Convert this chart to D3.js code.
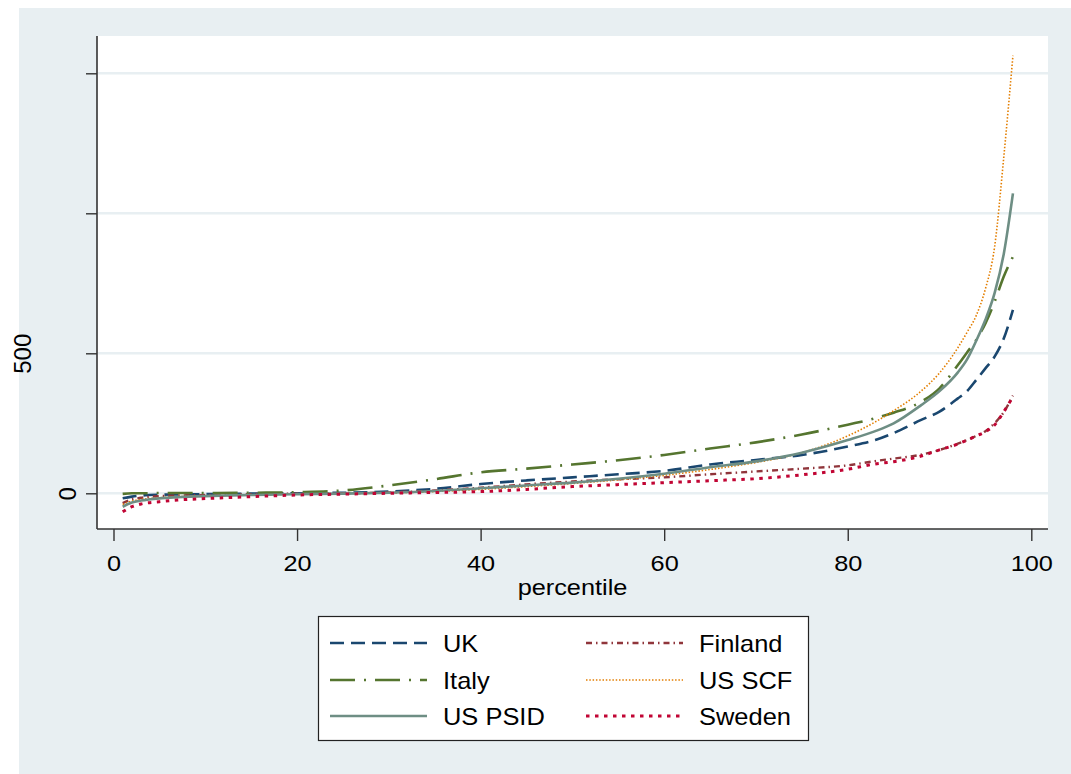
<!DOCTYPE html>
<html>
<head>
<meta charset="utf-8">
<script src="https://cdn.jsdelivr.net/npm/d3@7"></script>
<style>
  body { margin: 0; background: #fff; }
  text { font-family: "Liberation Sans", Arial, sans-serif; fill: #000; }
</style>
</head>
<body>
<div id="chart"></div>
<script>
var pcts = [1, 2, 3, 5, 7, 10, 15, 20, 25, 30, 35, 40, 45, 50, 55, 60, 65, 70, 75, 80, 83, 85, 88, 90, 92, 93, 94, 95, 96, 97, 98];

var uk      = [-18, -12, -8, -5, -4, -3, -1, 0, 2, 6, 16, 33, 46, 57, 68, 80, 103, 119, 137, 167, 190, 215, 262, 292, 339, 365, 405, 446, 488, 553, 655];
var finland = [-35, -22, -16, -10, -8, -6, -3, -1, 0, 3, 10, 20, 32, 42, 50, 57, 68, 78, 88, 100, 115, 124, 138, 155, 177, 190, 205, 222, 250, 290, 349];
var italy   = [-2, 0, 0, 1, 1, 1, 2, 4, 10, 28, 50, 75, 88, 103, 118, 137, 160, 182, 210, 245, 268, 288, 327, 375, 458, 503, 548, 607, 684, 774, 845];
var usScf   = [-40, -28, -22, -16, -12, -9, -6, -3, -1, 1, 6, 14, 24, 35, 48, 64, 85, 110, 145, 205, 255, 295, 365, 430, 520, 575, 635, 730, 880, 1200, 1563];
var usPsid  = [-48, -33, -26, -18, -14, -10, -6, -3, -1, 2, 8, 18, 28, 38, 52, 70, 93, 114, 145, 190, 222, 250, 315, 365, 432, 478, 545, 620, 715, 855, 1071];
var sweden  = [-66, -48, -38, -30, -24, -19, -12, -6, -3, 0, 3, 6, 14, 24, 31, 38, 45, 52, 66, 86, 105, 113, 133, 155, 176, 190, 205, 220, 244, 291, 345];

var xTicks = [0, 20, 40, 60, 80, 100];
var yTicks = [0, 500, 1000, 1500];
var yLabels = { 0: "0", 500: "500" };

// draw order = stata legend order (row-wise, 2 cols)
var series = [
  { name: "UK",      values: uk,      color: "#1a476f", width: 2.6, dash: "14,7" },
  { name: "Finland", values: finland, color: "#90353b", width: 2.4, dash: "6,4,1.5,4" },
  { name: "Italy",   values: italy,   color: "#55752f", width: 2.6, dash: "25,9,2,9" },
  { name: "US SCF",  values: usScf,   color: "#e37e00", width: 1.6, dash: "1.5,1.8" },
  { name: "US PSID", values: usPsid,  color: "#6e8e84", width: 2.6, dash: null },
  { name: "Sweden",  values: sweden,  color: "#c10534", width: 3,   dash: "3.5,5.5" }
];

var W = 1071, H = 774;
var plot = { left: 97, right: 1048, top: 36, bottom: 529 };

var svg = d3.select("#chart").append("svg")
  .attr("width", W)
  .attr("height", H);

// outer grey region
svg.append("rect")
  .attr("x", 19).attr("y", 8)
  .attr("width", W - 19).attr("height", H - 8)
  .attr("fill", "#e8eff2");

svg.append("rect")
  .attr("x", plot.left).attr("y", plot.top)
  .attr("width", plot.right - plot.left).attr("height", plot.bottom - plot.top)
  .attr("fill", "#fff");

var x = d3.scaleLinear().domain([0, 100]).range([113.5, 1031.3]);
var y = d3.scaleLinear().domain([0, 1500]).range([493.3, 73.3]);

function stretch(sel, k) {
  sel.each(function() {
    var w = this.getComputedTextLength();
    d3.select(this).attr("textLength", w * k).attr("lengthAdjust", "spacingAndGlyphs");
  });
}

// gridlines
svg.append("g").selectAll("line")
  .data(yTicks)
  .enter().append("line")
    .attr("x1", plot.left + 1).attr("x2", plot.right)
    .attr("y1", function(d) { return y(d); })
    .attr("y2", function(d) { return y(d); })
    .attr("stroke", "#e8eff2")
    .attr("stroke-width", 2.5);

// lines
var line = d3.line()
  .x(function(d) { return x(d[0]); })
  .y(function(d) { return y(d[1]); })
  .curve(d3.curveMonotoneX);

svg.append("g").selectAll("path")
  .data(series)
  .enter().append("path")
    .attr("d", function(s) { return line(pcts.map(function(p, i) { return [p, s.values[i]]; })); })
    .attr("fill", "none")
    .attr("stroke", function(s) { return s.color; })
    .attr("stroke-width", function(s) { return s.width; })
    .attr("stroke-dasharray", function(s) { return s.dash; })
    .attr("stroke-linejoin", "round");

// axes
var xAxis = svg.append("g")
  .attr("transform", "translate(0," + plot.bottom + ")")
  .call(d3.axisBottom(x).tickValues(xTicks).tickSize(12).tickSizeOuter(0).tickPadding(14));
xAxis.select(".domain").remove();
xAxis.selectAll(".tick line").attr("stroke", "#333").attr("stroke-width", 1.4);
xAxis.selectAll(".tick text").attr("font-size", "22px").attr("fill", "#000").call(stretch, 1.15);

var yAxis = svg.append("g")
  .attr("transform", "translate(" + plot.left + ",0)")
  .call(d3.axisLeft(y).tickValues(yTicks).tickSize(11).tickSizeOuter(0)
    .tickFormat(function(d) { return yLabels[d] || ""; }));
yAxis.select(".domain").remove();
yAxis.selectAll(".tick line").attr("stroke", "#333").attr("stroke-width", 1.4);
yAxis.selectAll(".tick text")
  .attr("font-size", "24px")
  .attr("fill", "#000")
  .attr("x", null).attr("dy", null)
  .attr("text-anchor", "middle")
  .attr("transform", function(d) { return "translate(" + (d === 500 ? -66 : -21) + ",0) rotate(-90)"; });

// axis frame lines
svg.append("line")
  .attr("x1", plot.left).attr("x2", plot.left)
  .attr("y1", plot.top).attr("y2", plot.bottom)
  .attr("stroke", "#333").attr("stroke-width", 1.6);
svg.append("line")
  .attr("x1", plot.left).attr("x2", plot.right)
  .attr("y1", plot.bottom).attr("y2", plot.bottom)
  .attr("stroke", "#333").attr("stroke-width", 1.6);

svg.append("text")
  .attr("x", (plot.left + plot.right) / 2)
  .attr("y", 595)
  .attr("text-anchor", "middle")
  .attr("font-size", "22px")
  .text("percentile")
  .call(stretch, 1.15);

// legend
var legend = svg.append("g");
legend.append("rect")
  .attr("x", 318.5).attr("y", 616.5)
  .attr("width", 490).attr("height", 124)
  .attr("fill", "#fff")
  .attr("stroke", "#222")
  .attr("stroke-width", 1.2);

var legendOrder = ["UK", "Italy", "US PSID", "Finland", "US SCF", "Sweden"];
var rowY = [643, 680, 716];
var colX = [330, 586];

var items = legend.selectAll(".item")
  .data(legendOrder.map(function(n, i) {
    return { s: series.find(function(s) { return s.name === n; }), col: Math.floor(i / 3), row: i % 3 };
  }))
  .enter().append("g")
    .attr("class", "item")
    .attr("transform", function(d) { return "translate(" + colX[d.col] + "," + rowY[d.row] + ")"; });

items.append("line")
  .attr("x1", 0).attr("x2", 97)
  .attr("y1", 0).attr("y2", 0)
  .attr("stroke", function(d) { return d.s.color; })
  .attr("stroke-width", function(d) { return d.s.width; })
  .attr("stroke-dasharray", function(d) { return d.s.dash; });

items.append("text")
  .attr("x", 113)
  .attr("y", 9)
  .attr("font-size", "24px")
  .text(function(d) { return d.s.name; })
  .call(stretch, 1.06);
</script>
</body>
</html>
